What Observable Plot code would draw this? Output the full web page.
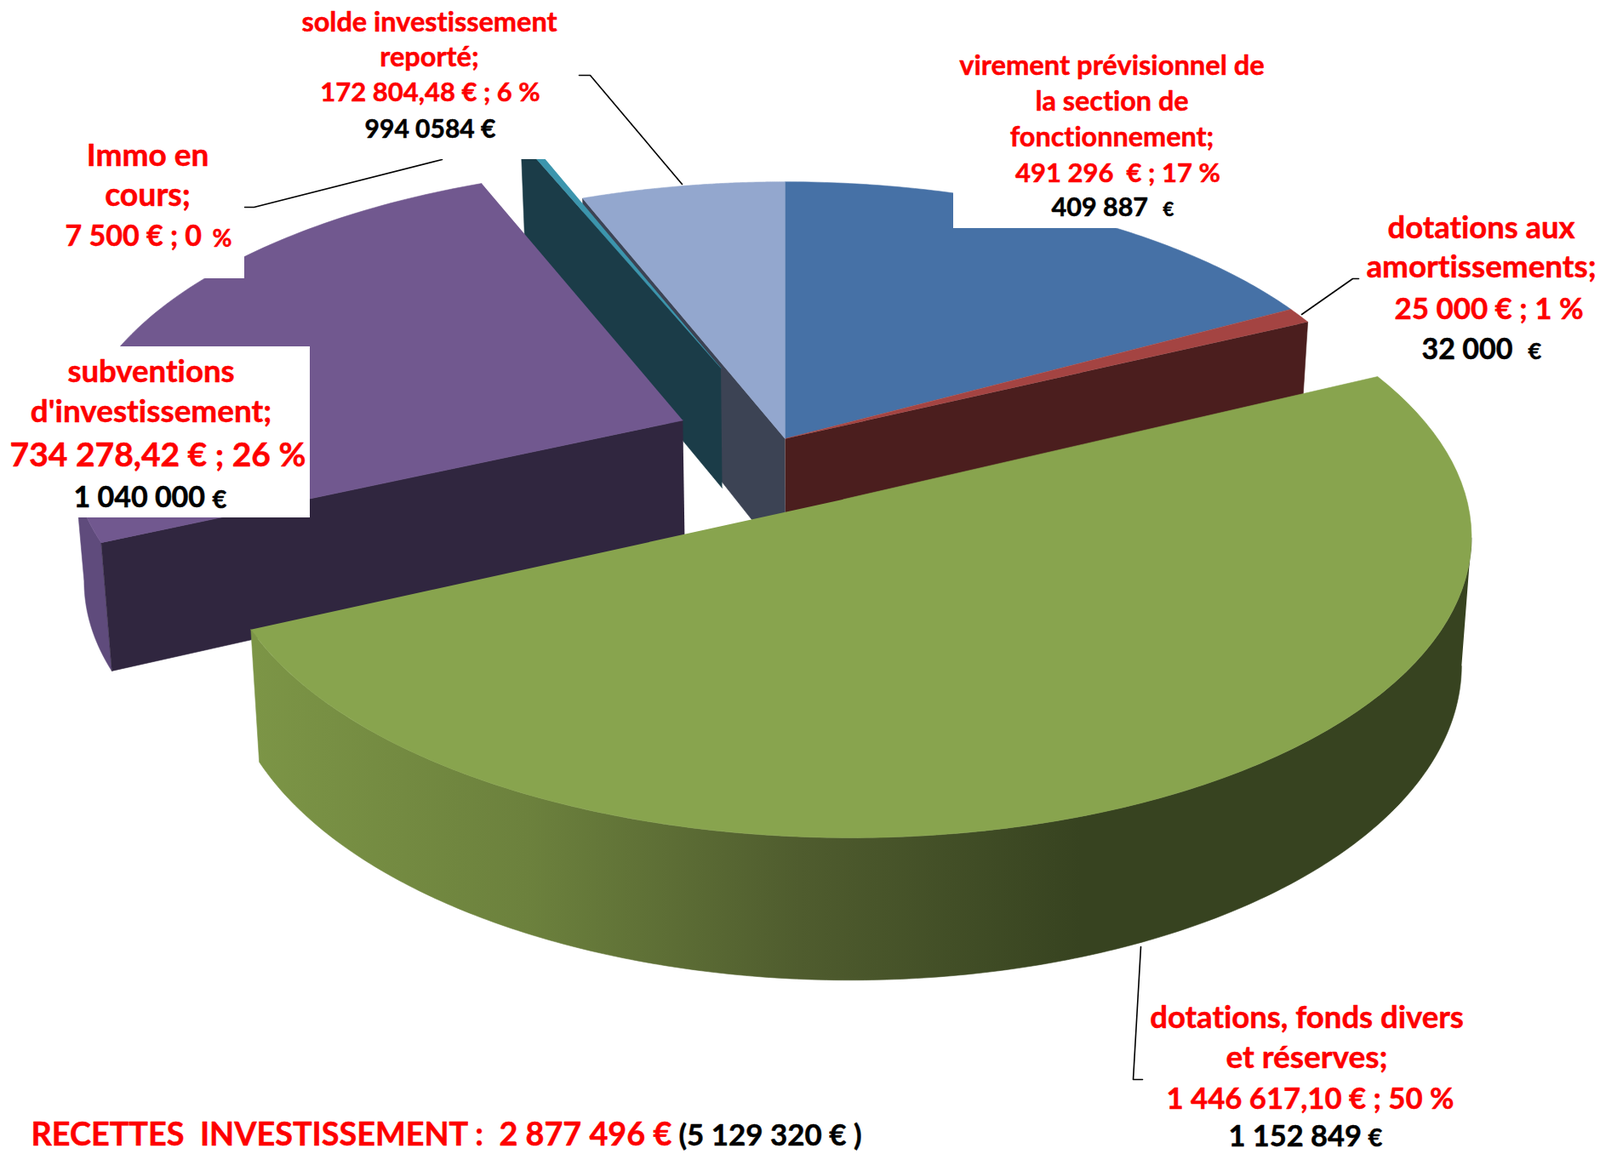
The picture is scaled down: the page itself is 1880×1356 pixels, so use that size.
<!DOCTYPE html>
<html><head><meta charset="utf-8">
<style>html,body{margin:0;padding:0;background:#fff}svg{display:block}</style>
<script src="https://cdn.jsdelivr.net/npm/d3@7"></script>
<script src="https://cdn.jsdelivr.net/npm/@observablehq/plot@0.6"></script>
</head><body><div id="chart"></div>
<script>
// ---- data ----
const categories = ["virement prévisionnel de la section de fonctionnement","dotations aux amortissements","dotations, fonds divers et réserves","subventions d'investissement","Immo en cours","solde investissement reporté"];
const amounts = [491296, 25000, 1446617.10, 734278.42, 7500, 172804.48];
const sliceColors = ["#4671a6","#a44442","#88a44e","#71588f","#3c95ad","#93a7ce"];
const wallColors  = ["#2a4466","#4b1e1e","#374320","#30263f","#1b3c48","#3c4354"];
// explosion of each slice on the pie's plane, and radius
const explodeX = [0,0,0.094,-0.17,-0.109,0];
const explodeY = [0,0,0.208,-0.065,-0.255,0];
const radius   = [1,1,1.005,1.005,1,1];
// label lines: text, x, y, size, colour
const red="#fe0000", blk="#000000";
const linesMiddle = [
 ["solde investissement",504,26,32.5,red],["reporté;",504,67,32.5,red],["172 804,48 € ; 6 %",505,109,31,red],["994 0584 €",505,152,30,blk],
 ["virement prévisionnel de",1306,77,32.7,red],["la section de",1306,119,32.4,red],["fonctionnement;",1306,161,32.4,red],["491 296\u00a0\u00a0€ ; 17 %",1313,204,31,red],
 ["dotations aux",1740,268,36.4,red],["amortissements;",1740,314,36.8,red],["25 000 € ; 1 %",1749,363,34.9,red],
 ["Immo en",173,183,37,red],["cours;",173,230,37.4,red],
 ["subventions",177,437,36.6,red],["d'investissement;",177,484,36.9,red],["734 278,42 € ; 26 %",185,535,39,red],
 ["dotations, fonds divers",1535,1196,36.5,red],["et réserves;",1535,1243,37,red],["1 446 617,10 € ; 50 %",1539,1291,34.7,red]
];
const linesStart = [
 ["409 887",1235,244,30.5,blk],["€",1366,246,22,blk],
 ["32 000",1670,411,34,blk],["€",1795,413,27,blk],
 ["7 500 € ; 0",76,278,34,red],["%",249,281,28,red],
 ["1 040 000",86,585,34,blk],["€",249,587,29,blk],
 ["1 152 849",1443,1335,34.4,blk],["€",1607,1337,29,blk],
 ["RECETTES\u00a0\u00a0INVESTISSEMENT :\u00a0\u00a02 877 496 €",36,1333,37.8,red],["(5 129 320 € )",797,1334,34.9,blk]
];
// white label backgrounds: x1,x2,y1,y2
const boxes = [[480,678,0,187],[1120,1480,60,268],[0,287,150,327],[0,364,407,608]];
// leader lines
const leaders = [
 [[680,88],[693,88],[801,216]],
 [[287,243],[298,243],[519,187]],
 [[1596,327],[1589,327],[1529,369]],
 [[1340,1112],[1331,1268],[1342,1268]]
];
// shading of the green rim, left to right
const greenStops = [[0,"#7c9546"],[0.226,"#6c813d"],[0.449,"#4f5c2e"],[0.679,"#374320"],[1,"#374320"]];

// ---- pie model: value -> angle -> perspective plane ----
const total = d3.sum(amounts);
const cum = d3.cumsum(amounts);
const start = amounts.map((v,i)=> (cum[i]-v)/total*2*Math.PI);
const end = amounts.map((v,i)=> cum[i]/total*2*Math.PI);
const C=[922,515], A=712, B=335, K=0.11, DEPTH=145, S=0.015, VX=950;
function topPt(X,Y){const w=1-K*Y; return {x:C[0]+A*X/w, y:C[1]+B*Y/w, w};}
function botPt(X,Y){const p=topPt(X,Y); return {x:p.x+(VX-p.x)*S, y:p.y+DEPTH/p.w};}
function rim(i,t){return [explodeX[i]+radius[i]*Math.sin(t), explodeY[i]-radius[i]*Math.cos(t)];}
const apex=i=>[explodeX[i],explodeY[i]];
function arc(i,a,b,n=90){return d3.range(n+1).map(k=>rim(i,a+(b-a)*k/n));}
const rows=[]; let nid=0;
function poly(pts,color){const id=nid++; for(const p of pts) rows.push({id,color,x:p.x,y:p.y});}
function topFace(i){poly([apex(i),...arc(i,start[i],end[i])].map(p=>topPt(...p)),sliceColors[i]);}
function radialWall(i,t){
  const a=apex(i), r=rim(i,t);
  poly([topPt(...a),topPt(...r),botPt(...r),botPt(...a)],wallColors[i]);
}
// one outline along the rim, kept to the part of the arc facing the viewer
function rimWall(i,a,b,color){
  const pts=arc(i,a,b,240);
  poly([...pts.map(p=>topPt(...p)),...pts.slice().reverse().map(p=>botPt(...p))],color);
}
function extremeAngle(i,a,b,pick){
  const ts=d3.range(361).map(k=>a+(b-a)*k/360);
  return ts[pick(ts,t=>topPt(...rim(i,t)).x)];
}
// back to front
radialWall(5,start[5]);
radialWall(1,end[1]);
radialWall(4,start[4]);
topFace(4);
topFace(0); topFace(1); topFace(5);
rimWall(3,start[3],extremeAngle(3,start[3],end[3],d3.minIndex),"#5f4b7c");
radialWall(3,start[3]);
topFace(3);
rimWall(2,extremeAngle(2,start[2],end[2],d3.maxIndex),end[2],"url(#greenWall)");
topFace(2);

const boxRows = boxes.map(([x1,x2,y1,y2])=>({x1,x2,y1,y2}));
const leaderRows = leaders.flatMap((l,id)=>l.map(([x,y])=>({id,x,y})));
const toRows = l => l.map(([text,x,y,size,color])=>({text,x,y,size,color}));
const font = "Lato, 'Open Sans', sans-serif";
const textOpts = {x:"x",y:"y",text:"text",fontSize:"size",fill:"color",stroke:"color",strokeWidth:0.5,fontFamily:font,fontWeight:"bold"};

const gradientDefs = () => {
  const d=d3.create("svg:defs");
  const g=d.append("linearGradient").attr("id","greenWall").attr("gradientUnits","userSpaceOnUse")
    .attr("x1",296).attr("x2",1730).attr("y1",0).attr("y2",0);
  for(const [o,c] of greenStops) g.append("stop").attr("offset",o).attr("stop-color",c);
  return d.node();
};

const chart = Plot.plot({
  width:1880, height:1356, margin:0,
  style:{fontVariantLigatures:"none"},
  x:{domain:[0,1880],range:[0,1880],axis:null},
  y:{domain:[0,1356],range:[0,1356],axis:null},
  color:{type:"identity"},
  marks:[
    gradientDefs,
    Plot.line(rows,{x:"x",y:"y",z:"id",fill:"color",stroke:"color",strokeWidth:0.6}),
    Plot.line(leaderRows,{x:"x",y:"y",z:"id",stroke:"#000",strokeWidth:1.6}),
    Plot.rect(boxRows,{x1:"x1",x2:"x2",y1:"y1",y2:"y2",fill:"#fff"}),
    Plot.text(toRows(linesMiddle),{...textOpts,textAnchor:"middle"}),
    Plot.text(toRows(linesStart),{...textOpts,textAnchor:"start"})
  ]
});
document.getElementById("chart").append(chart);
</script></body></html>
